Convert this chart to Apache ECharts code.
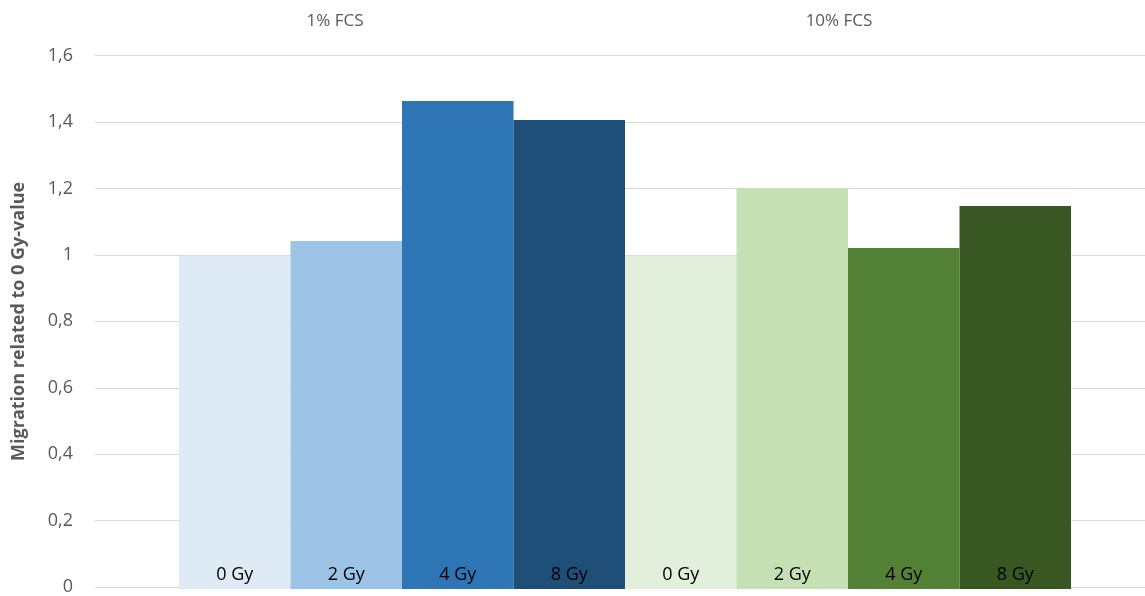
<!DOCTYPE html>
<html>
<head>
<meta charset="utf-8">
<script src="https://cdn.jsdelivr.net/npm/echarts@6/dist/echarts.min.js"></script>
<style>
  html, body { margin: 0; padding: 0; background: #fff; }
  #chart { width: 1145px; height: 596px; }
</style>
</head>
<body>
<div id="chart"></div>
<script>
// Serum groups shown as headers above the bars
const groups = ['1% FCS', '10% FCS'];
// Irradiation dose for each bar (4 per serum group)
const doses = ['0 Gy', '2 Gy', '4 Gy', '8 Gy', '0 Gy', '2 Gy', '4 Gy', '8 Gy'];
// Migration relative to the 0 Gy value
const values = [1.0, 1.044, 1.464, 1.407, 1.0, 1.203, 1.023, 1.149];
// Bar colours: blues for 1% FCS, greens for 10% FCS
const colors = ['#DEEBF7', '#9DC3E6', '#2E75B6', '#1F4E79', '#E2EFDA', '#C5E0B4', '#538135', '#385723'];
// Value axis ticks
const yMin = 0, yMax = 1.6, yStep = 0.2;

const FONT = '"Open Sans", "Noto Sans", sans-serif';
const TOP = 55.7, BOTTOM = 596 - 589;

const chart = echarts.init(document.getElementById('chart'), null, { renderer: 'canvas' });

chart.setOption({
  animation: false,
  backgroundColor: '#ffffff',
  grid: [
    // grid 0: value axis, gridlines and axis title across the full width
    { left: 95, right: -10, top: TOP, bottom: BOTTOM, containLabel: false },
    // grid 1: the bars
    { left: 179, right: 1145 - 1071, top: TOP, bottom: BOTTOM, containLabel: false },
    // grid 2: serum group headers
    { left: 83, right: 1145 - 1091, top: TOP, bottom: BOTTOM, containLabel: false }
  ],
  xAxis: [
    { gridIndex: 0, type: 'category', data: [''], show: false },
    { gridIndex: 1, type: 'category', data: doses.map((d, i) => d + '#' + i), show: false },
    {
      gridIndex: 2, type: 'category', data: groups, position: 'top',
      axisLine: { show: false }, axisTick: { show: false },
      axisLabel: { color: '#595959', fontFamily: FONT, fontSize: 17, margin: 26 }
    }
  ],
  yAxis: [
    {
      gridIndex: 0, type: 'value', min: yMin, max: yMax, interval: yStep,
      name: 'Migration related to 0 Gy-value',
      nameLocation: 'middle', nameGap: 67,
      nameTextStyle: { color: '#595959', fontFamily: FONT, fontSize: 18, fontWeight: 'bold' },
      axisLine: { show: false }, axisTick: { show: false },
      axisLabel: {
        color: '#595959', fontFamily: FONT, fontSize: 18, margin: 22,
        formatter: v => String(Math.round(v * 10) / 10).replace('.', ',')
      },
      splitLine: { show: true, lineStyle: { color: '#D9D9D9', width: 1 } }
    },
    { gridIndex: 1, type: 'value', min: yMin, max: yMax, interval: yStep, show: false, splitLine: { show: false } },
    { gridIndex: 2, type: 'value', min: yMin, max: yMax, show: false, splitLine: { show: false } }
  ],
  series: [
    {
      type: 'bar',
      xAxisIndex: 1, yAxisIndex: 1,
      barWidth: '100%',
      barCategoryGap: '0%',
      data: values.map((v, i) => ({ value: v, itemStyle: { color: colors[i] } })),
      label: {
        show: true,
        position: 'insideBottom',
        distance: 5,
        color: '#000000',
        fontFamily: FONT,
        fontSize: 18,
        formatter: p => doses[p.dataIndex]
      }
    }
  ]
});
</script>
</body>
</html>
